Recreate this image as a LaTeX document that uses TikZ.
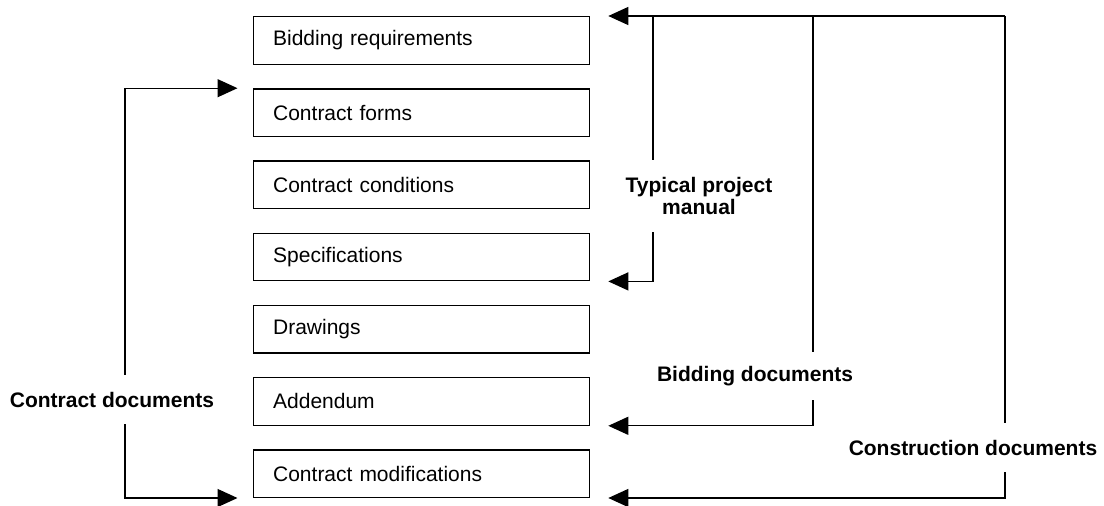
\documentclass[tikz,border=0pt]{standalone}
\usepackage{fontspec}
\setmainfont{Liberation Sans}
\usetikzlibrary{arrows.meta,calc}
\begin{document}
\begin{tikzpicture}[x=1pt,y=-1pt,
  box/.style={draw,line width=1.3pt,minimum width=336.5pt,minimum height=47.5pt,
    text width=296.5pt,align=left,inner xsep=20pt,anchor=north west,
    font=\fontsize{21}{22}\selectfont},
  lbl/.style={font=\bfseries\fontsize{21}{22}\selectfont,align=center,inner sep=0pt},
  con/.style={line width=1.3pt},
  arr/.style={con,-{Triangle[length=20pt,width=18pt]}}]
\useasboundingbox (0,0) rectangle (1104,506);
\node[box] (b1) at (252.5,16) {Bidding requirements};
\node[box] (b2) at (252.5,88.2) {Contract forms};
\node[box] (b3) at (252.5,160.4) {Contract conditions};
\node[box] (b4) at (252.5,232.6) {Specifications};
\node[box] (b5) at (252.5,304.8) {Drawings};
\node[box] (b6) at (252.5,377) {Addendum};
\node[box] (b7) at (252.5,449.2) {Contract modifications};
% labels
\node[lbl,minimum height=49pt] (cd) at (112,399.5) {Contract documents};
\node[lbl,minimum height=72pt] (tpm) at (699,196) {Typical project\\manual};
\node[lbl,minimum height=48pt] (bd) at (755,376) {Bidding documents};
\node[lbl,minimum height=49pt] (cod) at (973,447.5) {Construction documents};
% top corners of right connectors
\coordinate (tTop) at (653,16);
\coordinate (bTop) at (813,16);
\coordinate (cTop) at (1005,16);
\coordinate (cL) at (125,0);
% arrow tips
\coordinate (tipR1) at ($(b1.north east)+(18,0)$);
\coordinate (tipR4) at ($(b4.south east)+(18,0)$);
\coordinate (tipR6) at ($(b6.south east)+(18,0)$);
\coordinate (tipR7) at ($(b7.south east)+(18,0)$);
\coordinate (tipL2) at ($(b2.north west)+(-15,0)$);
\coordinate (tipL7) at ($(b7.south west)+(-15,0)$);
% right connectors
\draw[arr] (cTop) -- (tipR1);
\draw[con] (tTop) -- (tTop |- tpm.north);
\draw[con] (bTop) -- (bTop |- bd.north);
\draw[con] (cTop) -- (cTop |- cod.north);
\draw[arr] (tTop |- tpm.south) |- (tipR4);
\draw[arr] (bTop |- bd.south) |- (tipR6);
\draw[arr] (cTop |- cod.south) |- (tipR7);
% left connectors
\draw[arr] (cL |- cd.north) |- (tipL2);
\draw[arr] (cL |- cd.south) |- (tipL7);
\end{tikzpicture}
\end{document}
